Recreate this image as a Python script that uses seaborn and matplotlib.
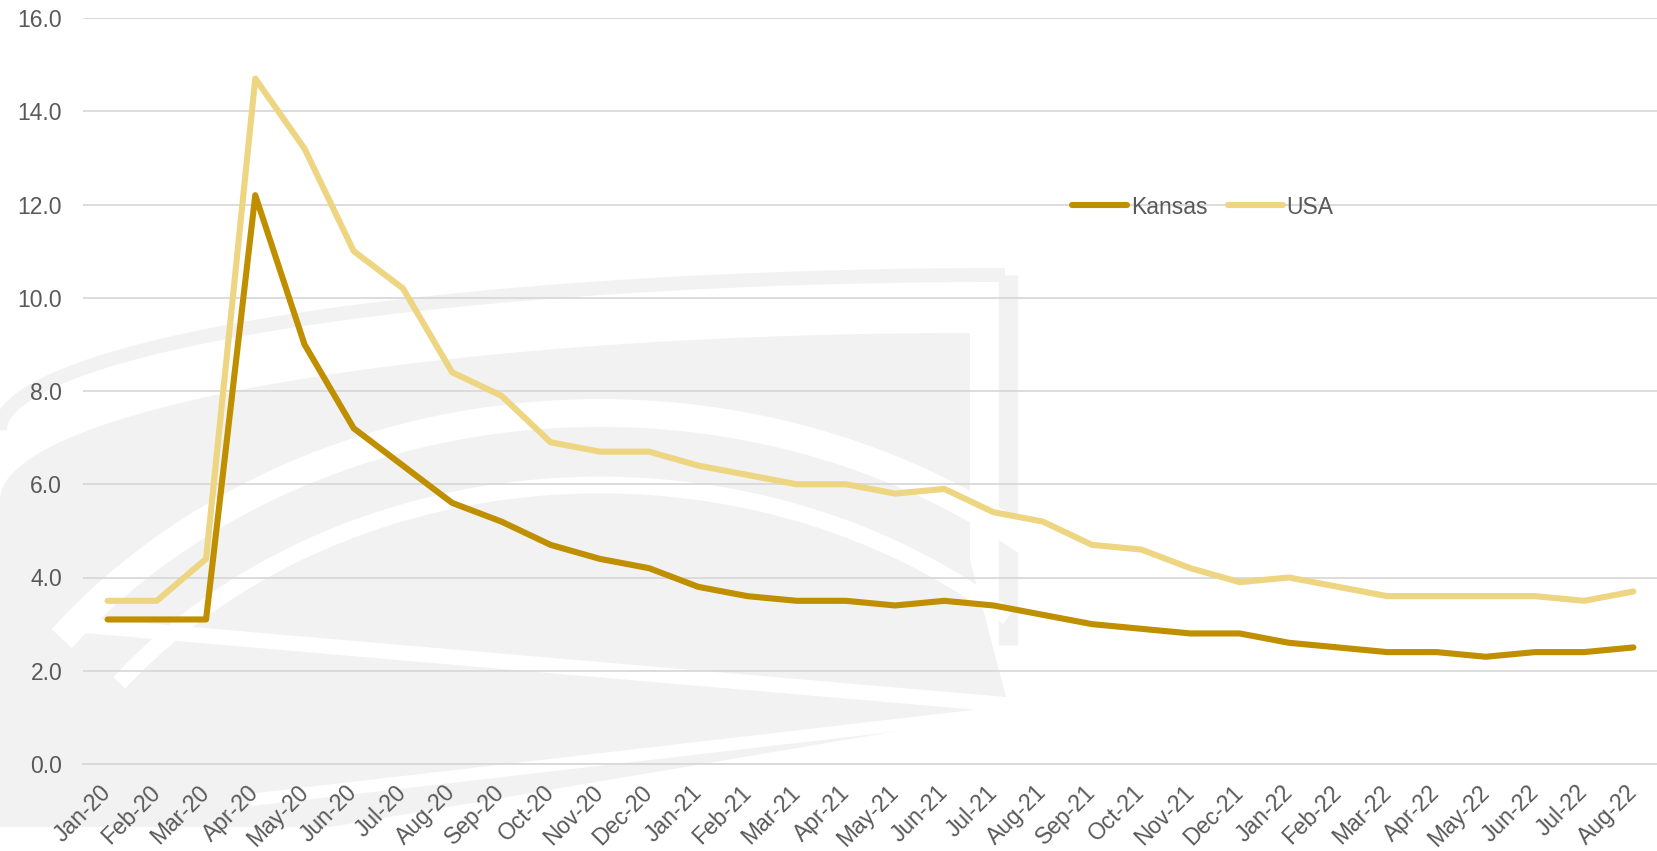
import pandas as pd
import numpy as np
import matplotlib.pyplot as plt
import seaborn as sns
from matplotlib.patches import Polygon

# Monthly data, Jan-20 .. Aug-22
months = ['Jan-20', 'Feb-20', 'Mar-20', 'Apr-20', 'May-20', 'Jun-20', 'Jul-20', 'Aug-20',
          'Sep-20', 'Oct-20', 'Nov-20', 'Dec-20', 'Jan-21', 'Feb-21', 'Mar-21', 'Apr-21',
          'May-21', 'Jun-21', 'Jul-21', 'Aug-21', 'Sep-21', 'Oct-21', 'Nov-21', 'Dec-21',
          'Jan-22', 'Feb-22', 'Mar-22', 'Apr-22', 'May-22', 'Jun-22', 'Jul-22', 'Aug-22']
kansas = [3.1, 3.1, 3.1, 12.2, 9.0, 7.2, 6.4, 5.6, 5.2, 4.7, 4.4, 4.2, 3.8, 3.6, 3.5, 3.5,
          3.4, 3.5, 3.4, 3.2, 3.0, 2.9, 2.8, 2.8, 2.6, 2.5, 2.4, 2.4, 2.3, 2.4, 2.4, 2.5]
usa = [3.5, 3.5, 4.4, 14.7, 13.2, 11.0, 10.2, 8.4, 7.9, 6.9, 6.7, 6.7, 6.4, 6.2, 6.0, 6.0,
       5.8, 5.9, 5.4, 5.2, 4.7, 4.6, 4.2, 3.9, 4.0, 3.8, 3.6, 3.6, 3.6, 3.6, 3.5, 3.7]

df = pd.DataFrame({
    'idx': list(range(len(months))) * 2,
    'value': kansas + usa,
    'series': ['Kansas'] * len(months) + ['USA'] * len(months),
})

sns.set_style('white')
plt.rcParams['font.family'] = ['Liberation Sans', 'DejaVu Sans']
text_col = '#595959'
grid_col = '#D9D9D9'
fs = 16.5

fig = plt.figure(figsize=(16.58, 8.51), dpi=100)

# faint background emblem (watermark), pixel coords of the figure
wm = '#F2F2F2'
bg = fig.add_axes([0, 0, 1, 1], zorder=0)
bg.set_xlim(0, 1658)
bg.set_ylim(851, 0)
bg.axis('off')


def ell(cx, cy, rx, ry, a0, a1, n=100):
    t = np.radians(np.linspace(a0, a1, n))
    return np.c_[cx + rx * np.cos(t), cy - ry * np.sin(t)]


# outer frame band
top = ell(1005, 430, 1005, 155, 180, 90)
bg.plot(top[:, 0], top[:, 1], color=wm, lw=10, solid_capstyle='butt')
bg.plot([1008, 1008], [275, 645], color=wm, lw=14, solid_capstyle='butt')
# inner panel + lower body
inner = ell(970, 500, 970, 167, 180, 90)
body = np.r_[[[0, 827]], inner, [[970, 333], [970, 560], [1010, 712], [330, 827]]]
bg.add_patch(Polygon(body, closed=True, color=wm, lw=0))
# white rainbow arcs inside the panel
for rx, ry, w in [(683, 587, 20), (610, 515, 12)]:
    arc = ell(600, 1000, rx, ry, 142, 48)
    bg.plot(arc[:, 0], arc[:, 1], color='white', lw=w, solid_capstyle='butt')
# white chevron bands
bg.plot([80, 1010], [625, 705], color='white', lw=11, solid_capstyle='butt')
bg.plot([250, 1010], [800, 712], color='white', lw=9, solid_capstyle='butt')

ax = fig.add_axes([83 / 1658, 1 - 764 / 851, 1 - 83 / 1658, (764 - 18) / 851], zorder=1)
ax.patch.set_alpha(0)

sns.lineplot(data=df, x='idx', y='value', hue='series',
             palette={'Kansas': '#BF8F00', 'USA': '#EDD582'},
             hue_order=['Kansas', 'USA'], linewidth=4.4, ax=ax, zorder=3)
for ln in ax.lines:
    ln.set_solid_joinstyle('round')
    ln.set_solid_capstyle('round')

ax.set_xlim(-0.5, 31.13)
ax.set_ylim(0, 16)
ax.set_yticks(np.arange(0, 17, 2))
ax.set_yticklabels([f'{v:.1f}' for v in np.arange(0, 17, 2)])
ax.yaxis.grid(True, color=grid_col, linewidth=1.3)
ax.set_axisbelow(True)

ax.set_xticks(range(len(months)))
ax.set_xticklabels(months, rotation=45, ha='right', va='center', rotation_mode='anchor')
ax.set_xticks(np.arange(-0.5, len(months), 1), minor=True)
ax.tick_params(axis='x', which='major', length=0, pad=18, labelsize=fs, labelcolor=text_col)
ax.tick_params(axis='x', which='minor', length=7, width=1.3, color=grid_col, direction='out')
ax.tick_params(axis='y', length=0, pad=15, labelsize=fs, labelcolor=text_col)

for s in ['top', 'right', 'left']:
    ax.spines[s].set_visible(False)
ax.spines['bottom'].set_color(grid_col)
ax.spines['bottom'].set_linewidth(1.3)
ax.set_xlabel('')
ax.set_ylabel('')

leg = ax.legend(loc='center', ncol=2, frameon=False, fontsize=fs,
                handlelength=2.4, handletextpad=0.15, columnspacing=0.9)
leg.set_bbox_to_anchor(((1203 - 83) / (1658 - 83), (764 - 207) / (764 - 18)), transform=ax.transAxes)
for txt in leg.get_texts():
    txt.set_color(text_col)
for h in leg.get_lines():
    h.set_linewidth(4.4)
    h.set_solid_capstyle('round')

fig.savefig('out.png', dpi=100)
